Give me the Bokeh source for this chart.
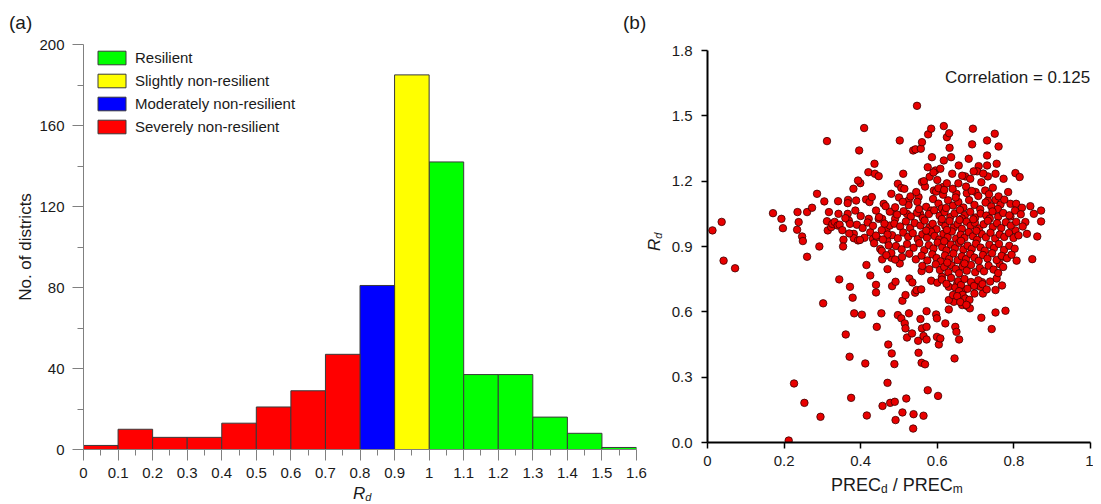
from bokeh.plotting import figure
from bokeh.layouts import row, column
from bokeh.models import Range1d, FixedTicker, Label, Legend, LegendItem, ColumnDataSource, Div
from bokeh.embed import file_html
from bokeh.resources import INLINE

FONT = "Liberation Sans"

# ---------------- (a) histogram data ----------------
bin_left = [0.0, 0.1, 0.2, 0.3, 0.4, 0.5, 0.6, 0.7, 0.8, 0.9, 1.0, 1.1, 1.2, 1.3, 1.4, 1.5]
bin_right = [0.1, 0.2, 0.3, 0.4, 0.5, 0.6, 0.7, 0.8, 0.9, 1.0, 1.1, 1.2, 1.3, 1.4, 1.5, 1.6]
counts = [2, 10, 6, 6, 13, 21, 29, 47, 81, 185, 142, 37, 37, 16, 8, 1]
bin_class = ["Severely non-resilient"] * 8 + ["Moderately non-resilient", "Slightly non-resilient"] + ["Resilient"] * 6
class_order = ["Resilient", "Slightly non-resilient", "Moderately non-resilient", "Severely non-resilient"]
class_colors = {"Resilient": "#00ff00", "Slightly non-resilient": "#ffff00",
                "Moderately non-resilient": "#0000ff", "Severely non-resilient": "#ff0000"}
hist_ticks = [0, 0.1, 0.2, 0.3, 0.4, 0.5, 0.6, 0.7, 0.8, 0.9, 1, 1.1, 1.2, 1.3, 1.4, 1.5, 1.6]
hist_tick_labels = ["0", "0.1", "0.2", "0.3", "0.4", "0.5", "0.6", "0.7", "0.8", "0.9", "1",
                    "1.1", "1.2", "1.3", "1.4", "1.5", "1.6"]
count_ticks = [0, 40, 80, 120, 160, 200]

# ---------------- (b) scatter data ----------------
# sparse lower part
low_x = [0.042, 0.072, 0.26, 0.344, 0.372, 0.379, 0.302, 0.383, 0.403, 0.361, 0.371, 0.412, 0.226, 0.253,
         0.295, 0.375, 0.416, 0.212, 0.415, 0.425, 0.44, 0.44, 0.456, 0.47, 0.48, 0.482, 0.491, 0.502,
         0.442, 0.454, 0.472, 0.481, 0.488, 0.497, 0.509, 0.506, 0.517, 0.515, 0.517, 0.521, 0.526, 0.527,
         0.535, 0.534, 0.542, 0.546, 0.55, 0.551, 0.558, 0.556, 0.56, 0.559, 0.559, 0.568, 0.564, 0.572,
         0.572, 0.572, 0.575, 0.597, 0.599, 0.599, 0.604, 0.608, 0.602, 0.621, 0.645, 0.647, 0.65, 0.657,
         0.715, 0.742, 0.752, 0.778, 0.47, 0.477, 0.489, 0.457, 0.519, 0.509, 0.491, 0.538, 0.564, 0.537,
         0.584, 0.6, 0.612, 0.63, 0.63, 0.643, 0.662, 0.665, 0.678, 0.685, 0.669, 0.697, 0.719, 0.704,
         0.717, 0.713, 0.769, 0.755, 0.763, 0.771, 0.752, 0.807, 0.848, 0.63, 0.641, 0.652]
low_y = [0.835, 0.80, 0.853, 0.749, 0.715, 0.665, 0.639, 0.593, 0.587, 0.496, 0.394, 0.363, 0.271, 0.182,
         0.118, 0.205, 0.124, 0.009, 0.815, 0.767, 0.724, 0.689, 0.841, 0.796, 0.848, 0.718, 0.738, 0.822,
         0.531, 0.593, 0.45, 0.409, 0.36, 0.585, 0.651, 0.57, 0.677, 0.547, 0.524, 0.482, 0.593, 0.753,
         0.735, 0.501, 0.688, 0.70, 0.467, 0.412, 0.703, 0.567, 0.524, 0.787, 0.366, 0.359, 0.489, 0.603,
         0.531, 0.473, 0.24, 0.588, 0.57, 0.485, 0.45, 0.478, 0.214, 0.547, 0.386, 0.531, 0.508, 0.473,
         0.573, 0.521, 0.597, 0.605, 0.274, 0.182, 0.187, 0.168, 0.202, 0.138, 0.103, 0.13, 0.123, 0.064,
         0.743, 0.734, 0.761, 0.611, 0.715, 0.646, 0.669, 0.631, 0.627, 0.616, 0.70, 0.684, 0.684, 0.721,
         0.736, 0.715, 0.721, 0.753, 0.819, 0.853, 0.70, 0.835, 0.842, 0.654, 0.677, 0.73]
# upper part and left/right fringes
up_x = [0.013, 0.037, 0.171, 0.193, 0.197, 0.235, 0.238, 0.234, 0.247, 0.249, 0.26, 0.273, 0.286, 0.292,
        0.305, 0.312, 0.312, 0.317, 0.314, 0.323, 0.326, 0.332, 0.341, 0.342, 0.34, 0.355, 0.354, 0.367,
        0.366, 0.366, 0.369, 0.372, 0.382, 0.381, 0.382, 0.388, 0.393, 0.396, 0.399, 0.393, 0.409, 0.414,
        0.423, 0.421, 0.429, 0.42, 0.436, 0.437, 0.447, 0.432, 0.442, 0.451, 0.447, 0.456, 0.46, 0.467,
        0.469, 0.476, 0.48, 0.484, 0.49, 0.497, 0.502, 0.506, 0.511, 0.514, 0.521, 0.525, 0.537, 0.543,
        0.547, 0.557, 0.56, 0.56, 0.568, 0.551, 0.555, 0.576, 0.584, 0.575, 0.586, 0.591, 0.595, 0.608,
        0.617, 0.625, 0.631, 0.632, 0.636, 0.617, 0.615, 0.639, 0.65, 0.656, 0.673, 0.682, 0.691, 0.693,
        0.686, 0.7, 0.708, 0.704, 0.725, 0.73, 0.73, 0.73, 0.732, 0.755, 0.75, 0.76, 0.752, 0.773,
        0.804, 0.815, 0.732, 0.752, 0.765, 0.791, 0.806, 0.821, 0.843, 0.852, 0.871, 0.871, 0.83, 0.861,
        0.791, 0.804]
up_y = [0.974, 1.013, 1.053, 1.027, 0.984, 1.058, 1.012, 0.977, 0.946, 0.925, 1.058, 1.078, 1.142, 0.90,
        1.107, 1.384, 1.016, 1.058, 0.974, 0.989, 1.004, 1.013, 1.108, 1.05, 0.996, 0.931, 0.90, 1.114,
        1.099, 1.05, 1.019, 1.004, 0.958, 1.165, 0.938, 1.111, 0.928, 1.341, 1.191, 1.203, 1.444, 1.116,
        1.104, 1.027, 1.127, 1.241, 1.28, 1.234, 1.223, 0.935, 0.943, 0.889, 1.027, 1.027, 1.096, 0.974,
        0.928, 0.996, 1.142, 1.061, 1.027, 1.188, 1.387, 1.169, 1.234, 1.165, 1.05, 1.111, 1.341, 1.346,
        1.546, 1.349, 1.379, 1.196, 1.175, 1.127, 1.05, 1.415, 1.441, 1.264, 1.31, 1.157, 1.249, 1.257,
        1.453, 1.402, 1.42, 1.353, 1.31, 1.295, 1.173, 1.234, 1.142, 1.272, 1.222, 1.303, 1.369, 1.441,
        1.211, 1.15, 1.269, 1.245, 1.157, 1.272, 1.318, 1.387, 1.222, 1.28, 1.418, 1.359, 1.234, 1.211,
        1.237, 1.219, 1.111, 1.114, 1.093, 1.096, 1.096, 1.078, 1.085, 1.05, 1.065, 1.015, 1.012, 0.946,
        1.038, 0.974]
# dense core
core_x = [0.525, 0.548, 0.571, 0.589, 0.603, 0.612, 0.628, 0.641, 0.655, 0.668, 0.683, 0.697, 0.712, 0.726,
          0.741, 0.758, 0.584, 0.615, 0.597, 0.603, 0.618, 0.648, 0.677, 0.707,
          0.495, 0.512, 0.531, 0.547, 0.562, 0.578, 0.592, 0.606, 0.619, 0.634, 0.645, 0.659, 0.672, 0.686,
          0.699, 0.713, 0.728, 0.744, 0.759, 0.772, 0.788, 0.803, 0.818, 0.552, 0.623, 0.664, 0.737,
          0.488, 0.503, 0.518, 0.529, 0.541, 0.556, 0.567, 0.579, 0.588, 0.598, 0.611, 0.621, 0.632, 0.643,
          0.653, 0.664, 0.676, 0.687, 0.698, 0.709, 0.721, 0.732, 0.745, 0.756, 0.767, 0.779, 0.792, 0.806,
          0.823, 0.612, 0.658, 0.694,
          0.482, 0.497, 0.511, 0.524, 0.536, 0.549, 0.561, 0.573, 0.584, 0.593, 0.605, 0.616, 0.627, 0.638,
          0.649, 0.661, 0.671, 0.682, 0.693, 0.704, 0.716, 0.727, 0.739, 0.751, 0.763, 0.775, 0.787, 0.799,
          0.812, 0.834, 0.571, 0.625, 0.702,
          0.492, 0.507, 0.521, 0.538, 0.553, 0.566, 0.578, 0.59, 0.601, 0.613, 0.624, 0.635, 0.646, 0.657,
          0.668, 0.679, 0.69, 0.701, 0.713, 0.724, 0.736, 0.748, 0.761, 0.774, 0.788, 0.802, 0.618, 0.662,
          0.508, 0.527, 0.544, 0.559, 0.574, 0.587, 0.598, 0.609, 0.62, 0.631, 0.642, 0.653, 0.664, 0.675,
          0.686, 0.697, 0.708, 0.719, 0.731, 0.743, 0.755, 0.768, 0.782, 0.794,
          0.561, 0.579, 0.596, 0.607, 0.618, 0.629, 0.637, 0.648, 0.657, 0.666, 0.677, 0.688, 0.699, 0.711,
          0.722, 0.734, 0.747, 0.759, 0.772, 0.626, 0.671,
          0.612, 0.624, 0.636, 0.647, 0.655, 0.662, 0.671, 0.679, 0.688, 0.696, 0.707, 0.718, 0.729, 0.738,
          0.657, 0.666, 0.673, 0.652, 0.684, 0.66, 0.676]
core_y = [1.09, 1.105, 1.082, 1.118, 1.097, 1.075, 1.112, 1.088, 1.104, 1.079, 1.113, 1.091, 1.071, 1.102,
          1.084, 1.072, 1.065, 1.138, 1.152, 1.168, 1.16, 1.125, 1.145, 1.132,
          1.047, 1.062, 1.038, 1.055, 1.031, 1.049, 1.066, 1.041, 1.058, 1.035, 1.052, 1.068, 1.044, 1.059,
          1.033, 1.051, 1.042, 1.061, 1.037, 1.054, 1.043, 1.065, 1.048, 1.072, 1.077, 1.029, 1.028,
          1.005, 0.992, 1.015, 0.985, 1.008, 0.996, 1.019, 0.988, 1.004, 0.979, 1.012, 0.994, 1.017, 0.987,
          1.003, 0.981, 1.014, 0.995, 1.009, 0.983, 1.002, 1.018, 0.99, 1.007, 0.985, 1.011, 0.996, 1.013,
          0.992, 1.026, 1.022, 1.025,
          0.952, 0.938, 0.964, 0.945, 0.961, 0.934, 0.956, 0.941, 0.967, 0.948, 0.932, 0.958, 0.943, 0.969,
          0.936, 0.954, 0.94, 0.966, 0.947, 0.931, 0.957, 0.942, 0.963, 0.937, 0.955, 0.944, 0.962, 0.939,
          0.951, 0.958, 0.973, 0.976, 0.972,
          0.902, 0.887, 0.911, 0.894, 0.915, 0.883, 0.906, 0.891, 0.918, 0.897, 0.882, 0.909, 0.892, 0.917,
          0.886, 0.904, 0.889, 0.913, 0.895, 0.881, 0.908, 0.893, 0.912, 0.884, 0.903, 0.89, 0.924, 0.926,
          0.852, 0.867, 0.841, 0.858, 0.836, 0.864, 0.847, 0.832, 0.859, 0.843, 0.868, 0.837, 0.855, 0.842,
          0.866, 0.849, 0.834, 0.861, 0.845, 0.869, 0.838, 0.857, 0.846, 0.862,
          0.811, 0.796, 0.818, 0.792, 0.806, 0.781, 0.814, 0.797, 0.777, 0.808, 0.789, 0.815, 0.782, 0.801,
          0.786, 0.812, 0.794, 0.778, 0.806, 0.826, 0.822,
          0.748, 0.729, 0.756, 0.712, 0.741, 0.723, 0.751, 0.706, 0.737, 0.719, 0.745, 0.727, 0.703, 0.739,
          0.695, 0.678, 0.661, 0.672, 0.655, 0.645, 0.632]
# moderately dense band left of the core and above it
mid_x = [0.39, 0.405, 0.418, 0.425, 0.432, 0.44, 0.448, 0.455, 0.462, 0.47, 0.476, 0.41, 0.398, 0.435,
         0.458, 0.473, 0.4, 0.386, 0.37, 0.36, 0.345, 0.352, 0.44, 0.465, 0.455, 0.48, 0.49, 0.467,
         0.53, 0.545, 0.565, 0.58, 0.59, 0.6, 0.625, 0.64, 0.655, 0.665, 0.675, 0.69, 0.695, 0.715,
         0.72, 0.745, 0.735, 0.76, 0.775, 0.785, 0.5, 0.51, 0.49]
mid_y = [1.0, 0.985, 1.01, 0.965, 0.995, 0.95, 1.035, 0.975, 1.005, 0.955, 1.06, 0.94, 0.93, 0.915,
         0.932, 0.905, 1.04, 1.065, 0.96, 1.03, 1.0, 0.975, 1.065, 1.085, 0.88, 0.87, 0.84, 0.86,
         1.13, 1.15, 1.2, 1.22, 1.24, 1.205, 1.19, 1.165, 1.19, 1.225, 1.175, 1.155, 1.245, 1.195,
         1.235, 1.17, 1.14, 1.13, 1.115, 1.15, 1.125, 1.105, 1.08]

prec_ratio = low_x + up_x + core_x + mid_x
rd_values = low_y + up_y + core_y + mid_y
n_pts = min(len(prec_ratio), len(rd_values))
prec_ratio = prec_ratio[:n_pts]
rd_values = rd_values[:n_pts]

scatter_x_ticks = [0, 0.2, 0.4, 0.6, 0.8, 1]
scatter_x_labels = ["0", "0.2", "0.4", "0.6", "0.8", "1"]
scatter_y_ticks = [0, 0.3, 0.6, 0.9, 1.2, 1.5, 1.8]
scatter_y_labels = ["0.0", "0.3", "0.6", "0.9", "1.2", "1.5", "1.8"]
correlation_text = "Correlation = 0.125"

TXT = "#1a1a1a"
H = 500

# ================= panel (a) =================
p1 = figure(width=648, height=H, output_backend="svg", toolbar_location=None,
            x_range=Range1d(0, 1.6), y_range=Range1d(0, 200),
            min_border_left=83, min_border_right=12, min_border_top=44, min_border_bottom=51)
p1.outline_line_color = None
p1.xgrid.grid_line_color = None
p1.ygrid.grid_line_color = None

renderers = {}
for cls in class_order:
    idx = [i for i, c in enumerate(bin_class) if c == cls]
    src = ColumnDataSource(dict(left=[bin_left[i] for i in idx], right=[bin_right[i] for i in idx],
                                top=[counts[i] for i in idx], bottom=[0] * len(idx)))
    renderers[cls] = p1.quad(left="left", right="right", top="top", bottom="bottom", source=src,
                             fill_color=class_colors[cls], line_color="#3a3a3a", line_width=1)

legend = Legend(items=[LegendItem(label=c, renderers=[renderers[c]]) for c in class_order],
                location=(11, 314), orientation="vertical")
legend.label_text_font = FONT
legend.label_text_font_size = "15px"
legend.label_text_color = TXT
legend.glyph_width = 35
legend.glyph_height = 17
legend.label_height = 17
legend.spacing = 6
legend.padding = 0
legend.margin = 0
legend.label_standoff = 6
legend.border_line_color = None
legend.background_fill_alpha = 0
p1.add_layout(legend, "center")

xa = p1.xaxis[0]
xa.ticker = FixedTicker(ticks=hist_ticks, minor_ticks=[t + 0.05 for t in hist_ticks[:-1]])
xa.major_label_overrides = {t: l for t, l in zip(hist_ticks, hist_tick_labels)}
ya = p1.yaxis[0]
ya.ticker = FixedTicker(ticks=count_ticks, minor_ticks=[t + 20 for t in count_ticks[:-1]])
ya.axis_label = "No. of districts"
ya.axis_label_text_font = FONT
ya.axis_label_text_font_size = "17px"
ya.axis_label_text_font_style = "normal"
ya.axis_label_text_color = TXT
ya.axis_label_standoff = 1
for ax in (xa, ya):
    ax.axis_line_color = "#808080"
    ax.axis_line_width = 1
    ax.major_tick_line_color = "#808080"
    ax.minor_tick_line_color = "#808080"
    ax.major_tick_in = 0
    ax.minor_tick_in = 0
    ax.major_label_text_font = FONT
    ax.major_label_text_font_size = "15px"
    ax.major_label_text_color = TXT
xa.major_tick_out = 11
xa.minor_tick_out = 6
xa.major_label_standoff = 7
ya.major_tick_out = 11
ya.minor_tick_out = 6
ya.major_label_standoff = 8

# ================= panel (b) =================
p2 = figure(width=445, height=H, output_backend="svg", toolbar_location=None,
            x_range=Range1d(0, 1), y_range=Range1d(0, 1.8),
            min_border_left=59, min_border_right=3, min_border_top=50, min_border_bottom=58)
p2.outline_line_color = None
p2.xgrid.grid_line_color = None
p2.ygrid.grid_line_color = None

p2.scatter(x=prec_ratio, y=rd_values, size=7.5, fill_color="#e80000", line_color="#3c0000",
           line_width=0.8)

xb = p2.xaxis[0]
xb.ticker = FixedTicker(ticks=scatter_x_ticks)
xb.major_label_overrides = {t: l for t, l in zip(scatter_x_ticks, scatter_x_labels)}
yb = p2.yaxis[0]
yb.ticker = FixedTicker(ticks=scatter_y_ticks)
yb.major_label_overrides = {t: l for t, l in zip(scatter_y_ticks, scatter_y_labels)}
for ax in (xb, yb):
    ax.axis_line_color = "black"
    ax.axis_line_width = 2
    ax.major_tick_line_color = "black"
    ax.major_tick_line_width = 1.5
    ax.minor_tick_line_color = None
    ax.major_tick_in = 0
    ax.major_tick_out = 6
    ax.major_label_text_font = FONT
    ax.major_label_text_font_size = "15px"
    ax.major_label_text_color = TXT
xb.major_label_standoff = 7
yb.major_label_standoff = 9

p2.add_layout(Label(x=0.999, y=1.676, text=correlation_text, text_font=FONT, text_font_size="17px",
                    text_color=TXT, text_align="right", text_baseline="alphabetic"))

# ---- texts outside the plot frames (panel letters, axis titles with subscripts) ----
SUB = "font-size:{}px;vertical-align:-2px"
overlay_html = (
    '<div style="position:relative;width:1093px;height:504px;'
    "font-family:'Liberation Sans',Arial,sans-serif;color:#1a1a1a;\">"
    '<span style="position:absolute;left:4px;top:8px;font-size:19px;line-height:19px;white-space:nowrap">(a)</span>'
    '<span style="position:absolute;left:618px;top:8px;font-size:19px;line-height:19px;white-space:nowrap">(b)</span>'
    '<span style="position:absolute;left:348px;top:480px;font-size:17px;line-height:17px;font-style:italic;'
    'white-space:nowrap">R<span style="' + SUB.format(11) + '">d</span></span>'
    '<span style="position:absolute;left:826px;top:471px;font-size:18px;line-height:18px;white-space:nowrap">'
    'PREC<span style="' + SUB.format(12) + '">d</span> / PREC<span style="' + SUB.format(12) + '">m</span></span>'
    '<span style="position:absolute;left:641px;top:246px;font-size:17px;line-height:17px;font-style:italic;'
    'white-space:nowrap;transform:rotate(-90deg);transform-origin:0 0">R<span style="'
    + SUB.format(11) + '">d</span></span>'
    '</div>'
)
overlay = Div(text=overlay_html, width=1093, height=504,
              styles={"position": "absolute", "left": "0px", "top": "0px", "pointer-events": "none"})

layout = column(row(column(p1, spacing=0), column(p2, spacing=0), spacing=0), overlay, spacing=0)
open("out.html", "w").write(file_html(layout, INLINE))
